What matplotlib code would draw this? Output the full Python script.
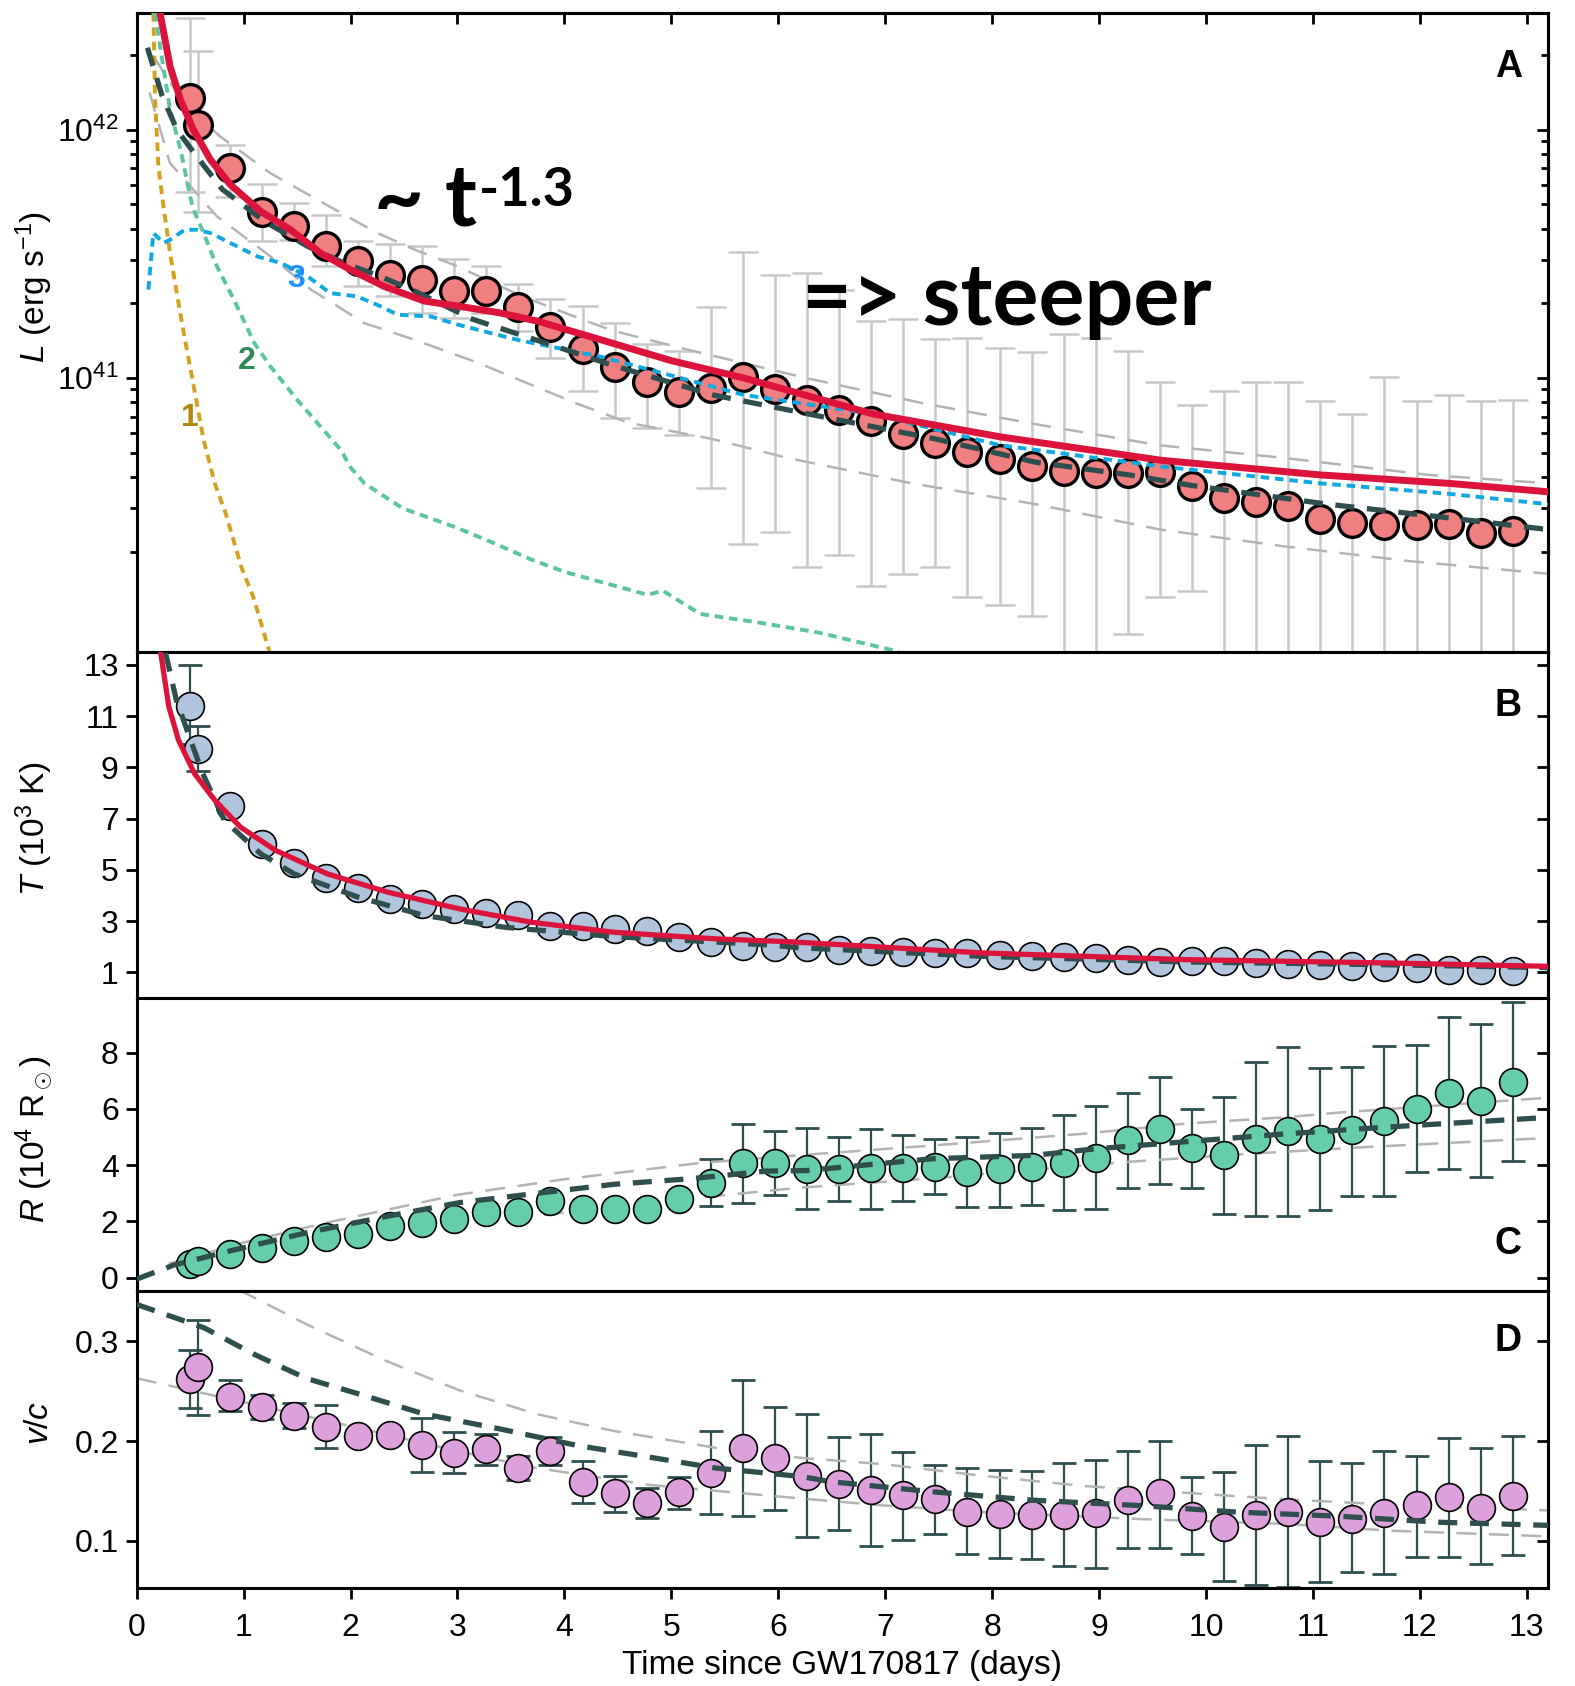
import numpy as np
import matplotlib
matplotlib.use('Agg')
from matplotlib import pyplot as plt
from matplotlib.ticker import FixedLocator, NullFormatter

plt.rcParams['font.family'] = ['Liberation Sans', 'DejaVu Sans']
plt.rcParams['mathtext.fontset'] = 'custom'
plt.rcParams['mathtext.rm'] = 'Liberation Sans'
plt.rcParams['mathtext.it'] = 'Liberation Sans:italic'
plt.rcParams['mathtext.bf'] = 'Liberation Sans:bold'

# epochs (days since GW170817)
t_obs = [0.50, 0.57, 0.87, 1.17, 1.47, 1.77, 2.07, 2.37, 2.67, 2.97, 3.27, 3.57, 3.87, 4.17,
         4.47, 4.77, 5.07, 5.37, 5.67, 5.97, 6.27, 6.57, 6.87, 7.17, 7.47, 7.77, 8.07, 8.37,
         8.67, 8.97, 9.27, 9.57, 9.87, 10.17, 10.47, 10.77, 11.07, 11.37, 11.67, 11.97, 12.27,
         12.57, 12.87]

# panel A: bolometric luminosity (1e41 erg/s)
L_obs = [13.4, 10.4, 7.0, 4.65, 4.08, 3.39, 2.95, 2.61, 2.48, 2.24, 2.25, 1.93, 1.60, 1.31,
         1.11, 0.966, 0.877, 0.916, 1.014, 0.904, 0.813, 0.741, 0.670, 0.598, 0.547, 0.506,
         0.470, 0.443, 0.422, 0.413, 0.416, 0.418, 0.367, 0.328, 0.318, 0.305, 0.271, 0.262,
         0.256, 0.255, 0.259, 0.238, 0.243]
L_hi = [28.2, 20.7, 8.71, 6.03, 5.07, 4.52, 3.55, 3.47, 3.39, 3.02, 2.82, 2.40, 2.09, 1.95,
        1.66, 1.37, 1.29, 1.94, 3.22, 2.60, 2.65, 2.27, 1.69, 1.73, 1.43, 1.45, 1.32, 1.27,
        1.50, 1.45, 1.29, 0.968, 0.776, 0.883, 0.968, 0.962, 0.807, 0.718, 1.01, 0.807, 0.855,
        0.807, 0.817]
L_lo = [5.62, 4.68, 5.37, 3.55, 3.59, 2.82, 2.34, 2.14, 1.82, 1.74, 1.82, 1.55, 1.20, 0.89,
        0.69, 0.627, 0.590, 0.362, 0.214, 0.240, 0.173, 0.194, 0.145, 0.163, 0.173, 0.131,
        0.122, 0.110, 0.03, 0.03, 0.093, 0.131, 0.139, 0.03, 0.03, 0.03, 0.03, 0.03, 0.03,
        0.03, 0.03, 0.03, 0.03]

# panel A model curves (t, log10 L)
red_t = [0.218, 0.312, 0.41, 0.53, 0.69, 0.875, 1.16, 1.44, 1.72, 2.0, 2.31, 2.69, 3.0, 3.39,
         3.75, 4.35, 5.0, 5.68, 6.88, 8.08, 9.58, 11.07, 12.27, 13.2]
red_logL = [42.47, 42.255, 42.12, 42.0, 41.879, 41.779, 41.671, 41.597, 41.503, 41.436, 41.37,
            41.31, 41.29, 41.263, 41.229, 41.153, 41.07, 41.0, 40.856, 40.763, 40.669, 40.61,
            40.576, 40.542]
fit_t = [0.1, 0.234, 0.375, 0.56, 0.8, 1.2, 1.6, 1.94, 2.28, 2.6, 3.14, 3.86, 4.46, 5.39, 6.38,
         7.48, 8.41, 9.28, 9.86, 11.14, 12.19, 13.2]
fit_logL = [42.33, 42.141, 42.0, 41.893, 41.76, 41.63, 41.53, 41.463, 41.409, 41.35, 41.237,
            41.136, 41.05, 40.932, 40.847, 40.754, 40.661, 40.61, 40.568, 40.492, 40.441, 40.39]
c3_t = [0.109, 0.156, 0.25, 0.312, 0.45, 0.56, 0.69, 0.875, 1.125, 1.35, 1.6, 1.81, 2.06, 2.28,
        2.44, 2.75, 3.03, 3.57, 4.35, 5.68, 6.88, 8.08, 9.58, 11.07, 12.27, 13.2]
c3_logL = [41.356, 41.584, 41.544, 41.557, 41.597, 41.597, 41.584, 41.544, 41.49, 41.463, 41.409,
           41.342, 41.329, 41.289, 41.255, 41.248, 41.212, 41.153, 41.085, 40.932, 40.856,
           40.729, 40.644, 40.576, 40.534, 40.492]
c2_t = [0.17, 0.312, 0.41, 0.52, 0.625, 0.75, 0.91, 1.1, 1.25, 1.5, 1.69, 1.91, 2.0, 2.13, 2.49,
        2.99, 3.32, 3.68, 4.0, 4.35, 4.78, 4.92, 5.27, 5.8, 6.38, 7.13]
c2_logL = [42.47, 42.08, 41.919, 41.691, 41.584, 41.45, 41.315, 41.141, 41.047, 40.913, 40.819,
           40.71, 40.64, 40.576, 40.475, 40.398, 40.339, 40.271, 40.22, 40.178, 40.127, 40.144,
           40.05, 40.017, 39.975, 39.898]
c1_t = [0.156, 0.172, 0.203, 0.25, 0.312, 0.375, 0.44, 0.516, 0.625, 0.73, 0.83, 0.98, 1.09, 1.24]
c1_logL = [42.47, 42.12, 41.852, 41.691, 41.503, 41.342, 41.181, 41.007, 40.752, 40.576, 40.458,
           40.237, 40.119, 39.9]
gA_up_t = [0.15, 0.45, 0.78, 1.25, 1.69, 2.25, 2.6, 3.0, 3.6, 4.2, 4.46, 5.1, 6.26, 7.36, 8.41,
           9.57, 10.74, 12.08, 13.2]
gA_up_logL = [42.3, 42.1, 41.973, 41.825, 41.718, 41.584, 41.517, 41.45, 41.33, 41.23, 41.19,
              41.12, 41.0, 40.898, 40.814, 40.729, 40.678, 40.61, 40.576]
gA_lo_t = [0.12, 0.31, 0.75, 1.25, 1.63, 2.13, 2.6, 3.2, 4.1, 4.6, 5.39, 6.09, 7.25, 8.41, 9.57,
           10.74, 11.9, 13.2]
gA_lo_logL = [42.15, 41.866, 41.651, 41.49, 41.356, 41.221, 41.154, 41.06, 40.9, 40.82, 40.754,
              40.678, 40.576, 40.492, 40.39, 40.322, 40.263, 40.212]

# panel B: temperature (1e3 K)
T_obs = [11.40, 9.70, 7.50, 6.00, 5.27, 4.69, 4.28, 3.88, 3.68, 3.48, 3.32, 3.25, 2.80, 2.83,
         2.70, 2.63, 2.40, 2.17, 2.04, 2.00, 1.98, 1.89, 1.85, 1.80, 1.76, 1.76, 1.69, 1.66,
         1.60, 1.56, 1.50, 1.41, 1.46, 1.46, 1.37, 1.33, 1.30, 1.24, 1.20, 1.17, 1.10, 1.10, 1.07]
T_hi = [13.0, 10.6]
T_lo = [9.9, 8.85]
redB_t = [0.225, 0.30, 0.39, 0.54, 0.73, 0.97, 1.30, 1.78, 2.35, 3.02, 3.69, 4.46, 5.42, 6.1,
          7.92, 9.82, 11.72, 13.2]
redB_T = [13.46, 11.37, 10.07, 8.76, 7.72, 6.67, 5.76, 4.85, 4.13, 3.48, 2.96, 2.57, 2.31, 2.2,
          1.76, 1.50, 1.37, 1.24]
fitB_t = [0.27, 0.37, 0.61, 0.82, 1.16, 1.47, 2.07, 2.69, 3.45, 4.46, 5.89, 6.21, 7.92, 9.82,
          11.72, 13.2]
fitB_T = [13.46, 11.63, 8.83, 6.93, 5.63, 4.85, 3.94, 3.22, 2.76, 2.40, 2.08, 1.96, 1.63, 1.41,
          1.30, 1.19]

# panel C: radius (1e4 Rsun)
R_obs = [0.50, 0.58, 0.85, 1.05, 1.30, 1.44, 1.56, 1.83, 1.95, 2.07, 2.34, 2.32, 2.73, 2.44,
         2.45, 2.46, 2.81, 3.37, 4.09, 4.09, 3.87, 3.87, 3.89, 3.90, 3.93, 3.75, 3.85, 3.95,
         4.08, 4.26, 4.88, 5.27, 4.61, 4.35, 4.94, 5.20, 4.94, 5.24, 5.57, 6.01, 6.57, 6.29, 6.96]
R_hi = [4.21, 5.47, 5.21, 5.32, 5.02, 5.30, 5.06, 4.92, 5.02, 5.14, 5.33, 5.77, 6.10, 6.58, 7.14,
        6.01, 6.42, 7.68, 8.21, 7.44, 7.50, 8.25, 8.27, 9.26, 9.01, 9.82]
R_lo = [2.55, 2.67, 2.94, 2.44, 2.74, 2.44, 2.71, 2.96, 2.52, 2.52, 2.58, 2.40, 2.46, 3.19, 3.33,
        3.19, 2.26, 2.20, 2.18, 2.42, 2.92, 2.92, 3.77, 3.87, 3.57, 4.14]
fitC_t = [0.0, 0.34, 0.87, 1.59, 2.35, 3.02, 3.74, 4.46, 5.18, 5.89, 6.26, 7.44, 8.39, 8.96, 9.86,
          10.76, 11.71, 13.2]
fitC_R = [-0.05, 0.44, 0.95, 1.6, 2.19, 2.67, 3.0, 3.32, 3.52, 3.79, 3.81, 4.23, 4.35, 4.58,
          4.85, 5.12, 5.36, 5.7]
gC_up_t = [0.3, 1.0, 1.78, 3.0, 4.0, 5.27, 6.18, 7.44, 8.86, 9.81, 10.76, 11.24, 13.2]
gC_up_R = [0.5, 1.25, 1.96, 2.95, 3.5, 4.08, 4.35, 4.70, 5.12, 5.48, 5.71, 5.87, 6.4]
gC_lo_t = [0.5, 2.0, 3.5, 5.0, 6.2, 7.5, 9.24, 10.29, 11.47, 13.2]
gC_lo_R = [0.35, 1.3, 2.1, 2.75, 3.2, 3.55, 4.11, 4.38, 4.64, 4.97]

# panel D: expansion velocity (v/c)
v_obs = [0.2627, 0.2739, 0.2447, 0.2339, 0.2254, 0.2142, 0.2051, 0.2061, 0.1959, 0.1881,
         0.1922, 0.1729, 0.1898, 0.1586, 0.1475, 0.1383, 0.1485, 0.1678, 0.1932, 0.1831,
         0.1652, 0.1571, 0.151, 0.1456, 0.1415, 0.129, 0.1266, 0.1263, 0.1263, 0.128, 0.1408,
         0.1476, 0.1249, 0.1137, 0.1256, 0.129, 0.1188, 0.1222, 0.128, 0.1358, 0.1436, 0.1334,
         0.145]
v_hi = [0.2915, 0.3214, 0.2617, 0.246, 0.238, 0.2363, 0.2051, 0.2061, 0.2227, 0.2092, 0.2075,
        0.185, 0.204, 0.1797, 0.1654, 0.1532, 0.1644, 0.2102, 0.261, 0.2339, 0.2271, 0.2041,
        0.2068, 0.1892, 0.1756, 0.1729, 0.1712, 0.1702, 0.178, 0.1814, 0.1898, 0.2, 0.1641,
        0.1695, 0.1963, 0.2047, 0.1803, 0.1776, 0.1898, 0.1854, 0.2031, 0.1932, 0.2047]
v_lo = [0.2332, 0.2261, 0.2298, 0.222, 0.213, 0.1932, 0.2051, 0.2061, 0.1695, 0.1678, 0.1763,
        0.161, 0.1756, 0.138, 0.1288, 0.1231, 0.1315, 0.1271, 0.1247, 0.1312, 0.1041, 0.1108,
        0.0949, 0.101, 0.1068, 0.0864, 0.0831, 0.082, 0.0746, 0.0729, 0.0924, 0.0932, 0.0864,
        0.06, 0.0559, 0.0536, 0.0583, 0.0685, 0.0668, 0.0841, 0.0841, 0.0763, 0.0854]
fitD_t = [0.0, 0.63, 1.11, 1.59, 2.07, 2.69, 3.41, 4.12, 4.84, 5.42, 6.22, 6.49, 7.44, 8.39,
          9.34, 10.29, 11.24, 12.19, 13.2]
fitD_v = [0.337, 0.3136, 0.2864, 0.2627, 0.2475, 0.2271, 0.2119, 0.1956, 0.1831, 0.1729, 0.1644,
          0.1593, 0.1492, 0.1407, 0.1356, 0.1288, 0.1247, 0.1186, 0.1155]
gD_up_t = [0.95, 1.59, 2.31, 3.02, 3.74, 4.46, 5.42, 6.22, 6.97, 7.92, 8.87, 9.82, 10.77, 11.72,
           13.2]
gD_up_v = [0.352, 0.317, 0.2814, 0.2508, 0.2271, 0.2102, 0.1932, 0.1831, 0.177, 0.1651, 0.1549,
           0.1481, 0.1414, 0.1363, 0.1305]
gD_lo_t = [0.0, 2.0, 3.0, 3.74, 4.8, 6.22, 6.97, 7.92, 9.34, 10.77, 11.72, 13.2]
gD_lo_v = [0.263, 0.215, 0.19, 0.173, 0.156, 0.1424, 0.1356, 0.1288, 0.122, 0.1169, 0.1102,
           0.1045]

t_obs = np.array(t_obs)
DARK = '#2F4F4F'
RED = '#DC143C'
GRAY = '#B4B4B4'
FS = 23

fig = plt.figure(figsize=(15.75, 16.86), dpi=100)
left, width = 0.0868, 0.8961
axA = fig.add_axes([left, 0.6130, width, 0.3793])
axB = fig.add_axes([left, 0.4083, width, 0.2047])
axC = fig.add_axes([left, 0.2340, width, 0.1743])
axD = fig.add_axes([left, 0.0583, width, 0.1757])


def style(ax, major, minor=None):
    # outward ticks on left/bottom, inward ticks on the right
    ax.set_xlim(0, 13.2)
    ax.xaxis.set_major_locator(FixedLocator(range(14)))
    ax.tick_params(axis='x', which='major', direction='out', top=False, length=8, width=2,
                   labelsize=FS, pad=10, labelbottom=(ax is axD))
    ax.tick_params(axis='y', which='both', direction='out', right=False, width=2,
                   labelsize=FS, pad=5)
    ax.tick_params(axis='y', which='major', length=8)
    ax.tick_params(axis='y', which='minor', length=5)
    ax.yaxis.set_major_locator(FixedLocator(major))
    sec = ax.secondary_yaxis('right')
    sec.yaxis.set_major_locator(FixedLocator(major))
    sec.yaxis.set_major_formatter(NullFormatter())
    if minor is not None:
        ax.yaxis.set_minor_locator(FixedLocator(minor))
        ax.yaxis.set_minor_formatter(NullFormatter())
        sec.yaxis.set_minor_locator(FixedLocator(minor))
        sec.yaxis.set_minor_formatter(NullFormatter())
    sec.tick_params(which='both', direction='in', width=2, labelright=False)
    sec.tick_params(which='major', length=8)
    sec.tick_params(which='minor', length=5)
    for s in list(ax.spines.values()) + list(sec.spines.values()):
        s.set_linewidth(2.2)


gray_dash = dict(color=GRAY, lw=1.8, ls=(0, (8, 5)), zorder=2)
fit_dash = dict(color=DARK, lw=3.8, ls=(0, (3.6, 2.4)), zorder=5)
dot = dict(lw=2.8, ls=(0, (2.2, 1.5)), zorder=4)

# ---- A
logs = lambda a: 10 ** np.array(a)
axA.set_yscale('log')
axA.set_ylim(10 ** 39.895, 10 ** 42.47)
L = np.array(L_obs) * 1e41
axA.errorbar(t_obs, L, yerr=[L - np.array(L_lo) * 1e41, np.array(L_hi) * 1e41 - L], fmt='none',
             ecolor='#C8C8C8', elinewidth=1.8, capsize=11, capthick=1.8, zorder=1)
axA.plot(gA_up_t, logs(gA_up_logL), **gray_dash)
axA.plot(gA_lo_t, logs(gA_lo_logL), **gray_dash)
axA.plot(c1_t, logs(c1_logL), color='#D4A020', **dot)
axA.plot(c2_t, logs(c2_logL), color='#5CC49E', **dot)
axA.plot(c3_t, logs(c3_logL), color='#10A8E0', **dot)
axA.plot(t_obs, L, 'o', ms=20, mfc='#F08080', mec='black', mew=2.4, zorder=3)
axA.plot(fit_t, logs(fit_logL), **fit_dash)
axA.plot(red_t, logs(red_logL), color=RED, lw=5, zorder=6, solid_capstyle='round')
style(axA, [1e41, 1e42], [k * 10.0 ** e for e in (40, 41) for k in range(2, 10)] + [2e42])
secx = axA.secondary_xaxis('top')
secx.xaxis.set_major_locator(FixedLocator(range(14)))
secx.tick_params(direction='in', length=8, width=2, labeltop=False)
secx.spines['top'].set_linewidth(2.2)
axA.set_ylabel(r'$\it{L}$ (erg s$^{-1}$)', fontsize=24)
axA.yaxis.set_label_coords(-0.058, 0.571)
axA.text(1.49, 10 ** 41.40, '3', color='#1E90FF', fontsize=23, fontweight='bold',
         ha='center', va='center', zorder=7)
axA.text(1.03, 10 ** 41.07, '2', color='#2E8B57', fontsize=23, fontweight='bold',
         ha='center', va='center', zorder=7)
axA.text(0.50, 10 ** 40.84, '1', color='#B8860B', fontsize=23, fontweight='bold',
         ha='center', va='center', zorder=7)
axA.text(2.22, 10 ** 41.613, '~ t', fontsize=62, fontweight='bold', family='Lato',
         ha='left', va='baseline', zorder=8)
axA.text(3.2, 10 ** 41.694, '-1.3', fontsize=39, fontweight='bold', family='Lato',
         ha='left', va='baseline', zorder=8)
axA.text(6.22, 10 ** 41.214, '=> steeper', fontsize=62, fontweight='bold', family='Lato',
         ha='left', va='baseline', zorder=8)

# ---- B
axB.errorbar(t_obs[:2], T_obs[:2], yerr=[np.array(T_obs[:2]) - np.array(T_lo),
             np.array(T_hi) - np.array(T_obs[:2])], fmt='none', ecolor=DARK, elinewidth=1.6,
             capsize=8.5, capthick=2, zorder=1)
axB.plot(t_obs, T_obs, 'o', ms=20, mfc='#B0C4DE', mec='black', mew=1.2, zorder=3)
axB.plot(fitB_t, fitB_T, **fit_dash)
axB.plot(redB_t, redB_T, color=RED, lw=3.8, zorder=6)
axB.set_ylim(0.02, 13.48)
style(axB, [1, 3, 5, 7, 9, 11, 13])
axB.set_ylabel(r'$\it{T}$ (10$^3$ K)', fontsize=24)
axB.yaxis.set_label_coords(-0.058, 0.49)

# ---- C
R = np.array(R_obs)
axC.errorbar(t_obs[17:], R[17:], yerr=[R[17:] - np.array(R_lo), np.array(R_hi) - R[17:]],
             fmt='none', ecolor=DARK, elinewidth=1.6, capsize=8.5, capthick=2, zorder=1)
axC.plot(gC_up_t, gC_up_R, **gray_dash)
axC.plot(gC_lo_t, gC_lo_R, **gray_dash)
axC.plot(t_obs, R, 'o', ms=20, mfc='#66CDAA', mec='black', mew=1.2, zorder=3)
axC.plot(fitC_t, fitC_R, **fit_dash)
axC.set_ylim(-0.49, 9.96)
style(axC, [0, 2, 4, 6, 8])
axC.set_ylabel(r'$\it{R}$ (10$^4$ R$_\odot$)', fontsize=24)
axC.yaxis.set_label_coords(-0.058, 0.517)

# ---- D
v = np.array(v_obs)
axD.errorbar(t_obs, v, yerr=[v - np.array(v_lo), np.array(v_hi) - v], fmt='none', ecolor=DARK,
             elinewidth=1.6, capsize=8.5, capthick=2, zorder=1)
axD.plot(gD_up_t, gD_up_v, **gray_dash)
axD.plot(gD_lo_t, gD_lo_v, **gray_dash)
axD.plot(t_obs, v, 'o', ms=20, mfc='#DDA0DD', mec='black', mew=1.2, zorder=3)
axD.plot(fitD_t, fitD_v, **fit_dash)
axD.set_ylim(0.053, 0.35)
style(axD, [0.1, 0.2, 0.3])
axD.set_ylabel(r'$\it{v/c}$', fontsize=24)
axD.yaxis.set_label_coords(-0.058, 0.556)
axD.set_xlabel('Time since GW170817 (days)', fontsize=24, labelpad=5)

for ax, lab, yy in ((axA, 'A', 0.9155), (axB, 'B', 0.845), (axC, 'C', 0.16), (axD, 'D', 0.833)):
    ax.text(0.9717, yy, lab, transform=ax.transAxes, fontsize=27, fontweight='bold',
            ha='center', va='center', zorder=9)

fig.savefig('out.png', dpi=100)
